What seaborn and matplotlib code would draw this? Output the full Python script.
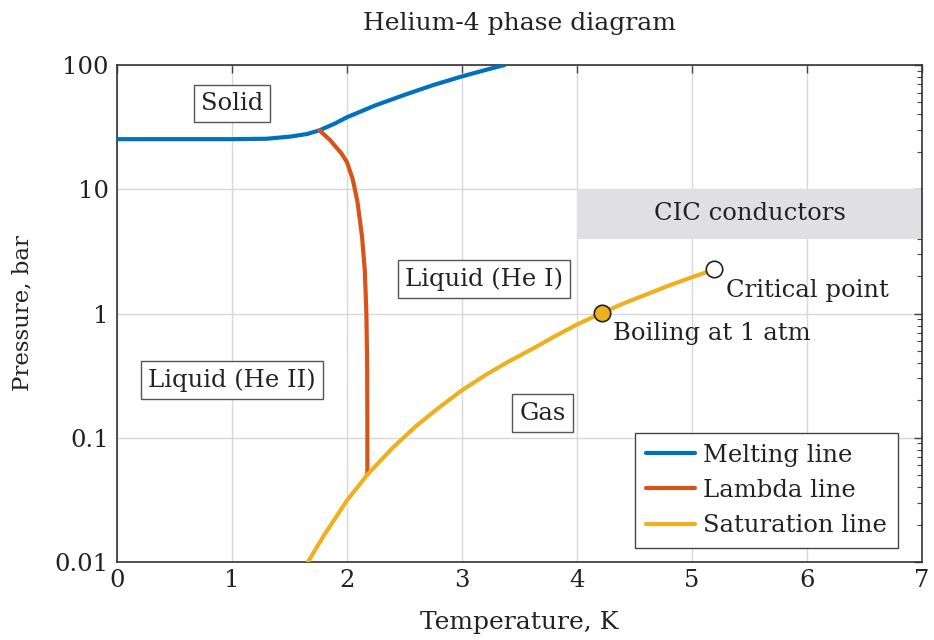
import matplotlib
matplotlib.use("Agg")
import matplotlib.pyplot as plt
import seaborn as sns
import numpy as np
import pandas as pd
from matplotlib.ticker import LogLocator, FixedLocator, NullFormatter

# ---- data ----
melt_T = [0.0, 0.5, 1.0, 1.3, 1.5, 1.65, 1.76, 1.9, 2.0, 2.25, 2.5, 2.75, 3.0, 3.2, 3.37]
melt_P = [25.3, 25.3, 25.3, 25.5, 26.5, 27.8, 29.8, 34.0, 38.0, 47.5, 57.5, 69.0, 81.0, 91.0, 100.0]

lam_T = [1.76, 1.85, 1.95, 2.0, 2.05, 2.09, 2.13, 2.155, 2.168, 2.175, 2.177, 2.177]
lam_P = [29.8, 25.0, 19.5, 16.5, 12.0, 8.0, 4.2, 2.2, 1.0, 0.4, 0.12, 0.0505]

sat_T = [1.66, 1.8, 2.0, 2.177, 2.4, 2.6, 2.8, 3.0, 3.2, 3.4, 3.6, 3.8, 4.0, 4.22, 4.4, 4.6, 4.8,
         5.0, 5.2]
sat_P = [0.01, 0.0164, 0.0313, 0.0505, 0.0835, 0.124, 0.175, 0.241, 0.318, 0.408, 0.512, 0.65,
         0.816, 1.013, 1.20, 1.42, 1.68, 1.96, 2.27]

boil_T, boil_P = 4.22, 1.013
crit_T, crit_P = 5.195, 2.275

cic_T = [4.0, 7.0]
cic_P = [4.0, 10.0]

region_labels = ["Solid", "Liquid (He II)", "Liquid (He I)", "Gas"]
region_T = [1.0, 1.0, 3.19, 3.70]
region_P = [49.0, 0.29, 1.9, 0.158]

x_ticks = [0, 1, 2, 3, 4, 5, 6, 7]
y_ticks = [0.01, 0.1, 1, 10, 100]
y_ticklabels = ["0.01", "0.1", "1", "10", "100"]

blue = "#0072BD"
red = "#D95319"
yellow = "#EDB120"

sns.set_style("white")
plt.rcParams['font.family'] = ['DejaVu Serif']
plt.rcParams['mathtext.fontset'] = 'dejavuserif'

FS = 17.5
TXT = "#222222"

fig = plt.figure(figsize=(9.34, 6.4), dpi=100)
ax = fig.add_axes([0.1253, 0.1219, 0.8619, 0.7765])

# CIC region
ax.fill_between(cic_T, [cic_P[0]] * 2, [cic_P[1]] * 2, color="#e0e0e3", lw=0, zorder=1)
ax.text(5.5, np.sqrt(cic_P[0] * cic_P[1]), "CIC conductors", ha="center", va="center",
        fontsize=FS, color=TXT, zorder=3)

df_m = pd.DataFrame({"T": melt_T, "P": melt_P})
df_l = pd.DataFrame({"T": lam_T, "P": lam_P})
df_s = pd.DataFrame({"T": sat_T, "P": sat_P})

sns.lineplot(data=df_m, x="T", y="P", ax=ax, color=blue, lw=3, sort=False, estimator=None,
             label="Melting line", zorder=4)
sns.lineplot(data=df_l, x="T", y="P", ax=ax, color=red, lw=3, sort=False, estimator=None,
             label="Lambda line", zorder=4)
sns.lineplot(data=df_s, x="T", y="P", ax=ax, color=yellow, lw=3, sort=False, estimator=None,
             label="Saturation line", zorder=4)

ax.scatter([boil_T], [boil_P], s=140, facecolor=yellow, edgecolor=TXT, lw=1.2, zorder=6)
ax.scatter([crit_T], [crit_P], s=140, facecolor="white", edgecolor=TXT, lw=1.2, zorder=6)

ax.text(boil_T + 0.09, boil_P * 0.84, "Boiling at 1 atm", ha="left", va="top", fontsize=FS,
        color=TXT, zorder=5)
ax.text(crit_T + 0.1, crit_P * 0.84, "Critical point", ha="left", va="top", fontsize=FS,
        color=TXT, zorder=5)

for lab, t, p in zip(region_labels, region_T, region_P):
    ax.text(t, p, lab, ha="center", va="center", fontsize=FS, color=TXT, zorder=5,
            bbox=dict(boxstyle="square,pad=0.3", fc="white", ec="#555555", lw=1.0))

ax.set_yscale("log")
ax.set_xlim(0, 7)
ax.set_ylim(0.01, 100)
ax.set_xticks(x_ticks)
ax.set_xticklabels([str(t) for t in x_ticks])
ax.yaxis.set_major_locator(FixedLocator(y_ticks))
ax.set_yticklabels(y_ticklabels)
ax.yaxis.set_minor_locator(LogLocator(base=10, subs=np.arange(2, 10) * 1.0, numticks=20))
ax.yaxis.set_minor_formatter(NullFormatter())

ax.grid(True, which="major", color="#d8d8d8", lw=1.0, zorder=0)
ax.set_axisbelow(True)
ax.tick_params(axis="both", which="both", direction="in", top=True, right=True,
               colors="#444444", labelcolor=TXT, labelsize=FS)
ax.tick_params(which="major", length=6, width=1)
ax.tick_params(which="minor", length=3.5, width=0.8)
ax.tick_params(axis="x", pad=5)
ax.tick_params(axis="y", pad=6)
for s in ax.spines.values():
    s.set_color("#333333")
    s.set_linewidth(1.2)

ax.set_xlabel("Temperature, K", fontsize=18, color=TXT, labelpad=14)
ax.set_ylabel("Pressure, bar", fontsize=16.5, color=TXT, labelpad=15)
ax.set_title("Helium-4 phase diagram", fontsize=18, color=TXT, pad=25)

leg = ax.legend(loc="lower right", bbox_to_anchor=(0.970, 0.028), borderaxespad=0,
                fontsize=FS, frameon=True, fancybox=False, framealpha=1, edgecolor="#444444",
                handlelength=2.0, handletextpad=0.35, borderpad=0.45, labelspacing=0.5)
leg.get_frame().set_linewidth(1.0)
for t in leg.get_texts():
    t.set_color(TXT)
leg.set_zorder(10)

fig.savefig("out.png", dpi=100)
